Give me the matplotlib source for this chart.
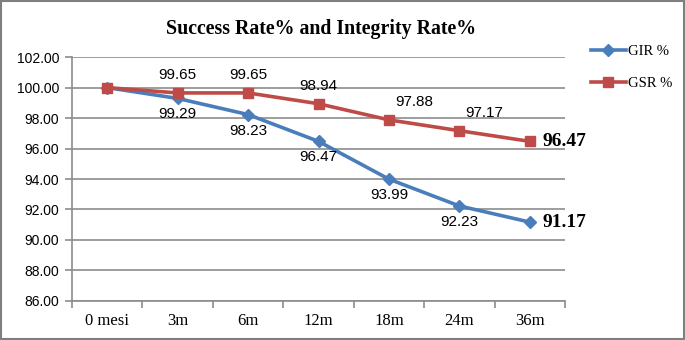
"""
Success rate and integrity rate over time.
"""

import matplotlib.pyplot as plt
from matplotlib.patches import Rectangle


# ==========================================================
# Data
# ==========================================================

periods = ["0 mesi", "3m", "6m", "12m", "18m", "24m", "36m"]
gir = [100.00, 99.29, 98.23, 96.47, 93.99, 92.23, 91.17]
gsr = [100.00, 99.65, 99.65, 98.94, 97.88, 97.17, 96.47]

BLUE = "#4A7EBB"
RED = "#BE4B48"
GRID = "#8C8C8C"

SANS = ["Liberation Sans", "DejaVu Sans"]
SERIF = ["Liberation Serif", "DejaVu Serif"]


# ==========================================================
# Figure
# ==========================================================

fig = plt.figure(figsize=(6.85, 3.40), dpi=100)
ax = fig.add_axes([0.105, 0.115, 0.72, 0.717])

x = list(range(len(periods)))

ax.plot(
    x, gir,
    color=BLUE, lw=2.6, marker="D", ms=6.5,
    label="GIR %", zorder=3,
)
ax.plot(
    x, gsr,
    color=RED, lw=2.6, marker="s", ms=7.5,
    label="GSR %", zorder=3,
)

# axes, grid
ax.set_xlim(-0.5, len(periods) - 0.5)
ax.set_ylim(86, 102)
ax.set_yticks(range(86, 103, 2))
ax.set_yticklabels(
    [f"{v:.2f}" for v in range(86, 103, 2)],
    family=SANS, fontsize=10,
)
ax.grid(axis="y", color=GRID, lw=1.2)
ax.set_axisbelow(True)

ax.set_xticks(x)
ax.set_xticklabels(periods, family=SERIF, fontsize=12)
ax.tick_params(axis="x", which="major", length=0, pad=9)
ax.set_xticks([i - 0.5 for i in range(len(periods) + 1)], minor=True)
ax.tick_params(axis="x", which="minor", length=5, color=GRID, width=1.2)
ax.tick_params(axis="y", length=5, color=GRID, width=1.2, pad=4)

for side in ["top", "right"]:
    ax.spines[side].set_visible(False)
for side in ["left", "bottom"]:
    ax.spines[side].set_color(GRID)
    ax.spines[side].set_linewidth(1.2)

# data labels
for i in range(1, len(periods) - 1):
    ax.annotate(
        f"{gir[i]:.2f}", (i, gir[i]),
        xytext=(0, -6.5), textcoords="offset points",
        ha="center", va="top", family=SANS, fontsize=11,
    )

for i in range(1, len(periods) - 1):
    dx = 0 if i <= 3 else 18
    ax.annotate(
        f"{gsr[i]:.2f}", (i, gsr[i]),
        xytext=(dx, 8), textcoords="offset points",
        ha="center", va="bottom", family=SANS, fontsize=11,
    )

last = len(periods) - 1
for vals in [gir, gsr]:
    ax.annotate(
        f"{vals[last]:.2f}", (last, vals[last]),
        xytext=(9, 0), textcoords="offset points",
        ha="left", va="center", family=SERIF,
        fontsize=14, fontweight="bold",
    )

fig.text(
    0.468, 0.915, "Success Rate% and Integrity Rate%",
    ha="center", va="center", family=SERIF,
    fontsize=14.3, fontweight="bold",
)

ax.legend(
    loc="upper left", bbox_to_anchor=(1.025, 1.105),
    frameon=False, prop={"family": SERIF, "size": 10.5},
    handlelength=2.4, handletextpad=0.2, labelspacing=1.3,
)

fig.add_artist(Rectangle(
    (0.002, 0.003), 0.996, 0.994,
    transform=fig.transFigure, fill=False,
    edgecolor="#7F7F7F", lw=1.5,
))

fig.savefig("out.png", dpi=100)
plt.close(fig)
